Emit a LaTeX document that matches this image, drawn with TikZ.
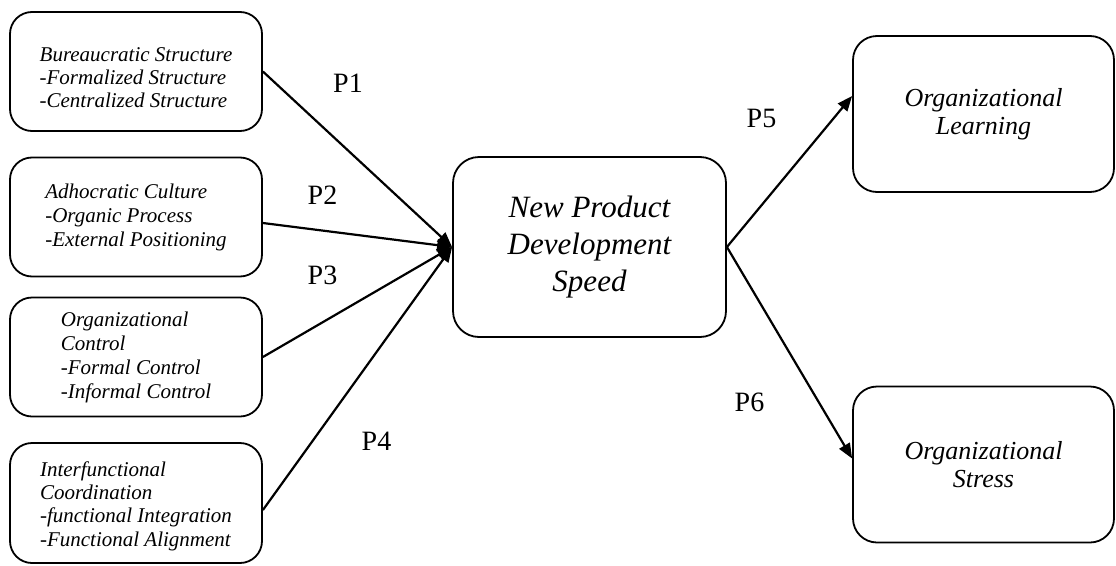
\documentclass[tikz,border=0pt]{standalone}
\usepackage{fontspec}
\setmainfont{Liberation Serif}
\usetikzlibrary{arrows.meta}

\begin{document}
\begin{tikzpicture}[x=1pt,y=-1pt,
  leftbox/.style={draw, line width=1.8pt, rounded corners=22pt,
    minimum width=252pt, minimum height=119pt, inner sep=0pt,
    align=left, font=\fontsize{21}{23}\selectfont\itshape},
  midbox/.style={draw, line width=1.8pt, rounded corners=26pt,
    minimum width=273pt, minimum height=180pt, inner sep=0pt,
    align=center, font=\fontsize{31}{37}\selectfont\itshape},
  rightbox/.style={draw, line width=1.8pt, rounded corners=24pt,
    minimum width=261pt, minimum height=156pt, inner sep=0pt,
    align=center, font=\fontsize{26}{28}\selectfont\itshape},
  plabel/.style={inner sep=0pt, font=\fontsize{28}{30}\selectfont},
  link/.style={line width=2.2pt, -{Triangle[length=15pt,width=12pt]}}
]
\useasboundingbox (0,0) rectangle (1116,565);

% drivers on the left
\node[leftbox] (bs) at (136,71.5)
  {\rule{0pt}{27pt}Bureaucratic Structure\\-Formalized Structure\\-Centralized Structure};
\node[leftbox, font=\fontsize{21}{24}\selectfont\itshape] (ac) at (136,217)
  {Adhocratic Culture\\-Organic Process\\-External Positioning};
\node[leftbox, font=\fontsize{21}{24}\selectfont\itshape] (oc) at (136,357)
  {Organizational\\Control\\-Formal Control\\-Informal Control};
\node[leftbox, minimum height=120pt, font=\fontsize{21}{23.3}\selectfont\itshape] (ic) at (136,503)
  {\rule{0pt}{21pt}Interfunctional\\Coordination\\-functional Integration\\-Functional Alignment};

% central construct
\node[midbox] (npd) at (589.5,247) {New Product\\Development\\Speed};

% outcomes
\node[rightbox] (ol) at (983.5,114) {Organizational\\Learning};
\node[rightbox] (os) at (983.5,464.5) {Organizational\\Stress};

% propositions
\draw[link] (bs.east) -- (npd.west);
\draw[link] ([yshift=-6pt]ac.east) -- (npd.west);
\draw[link] (oc.east) -- (npd.west);
\draw[link] ([yshift=-7pt]ic.east) -- (npd.west);
\draw[link] (npd.east) -- ([yshift=18pt]ol.west);
\draw[link] (npd.east) -- ([yshift=6pt]os.west);

\node[plabel] (p1) at (348,83) {P1};
\node[plabel] (p2) at (322.5,195.5) {P2};
\node[plabel] (p3) at (322.5,275.5) {P3};
\node[plabel] (p4) at (376.5,441.5) {P4};
\node[plabel] (p5) at (761.5,118) {P5};
\node[plabel] (p6) at (749.5,402) {P6};
\end{tikzpicture}
\end{document}
